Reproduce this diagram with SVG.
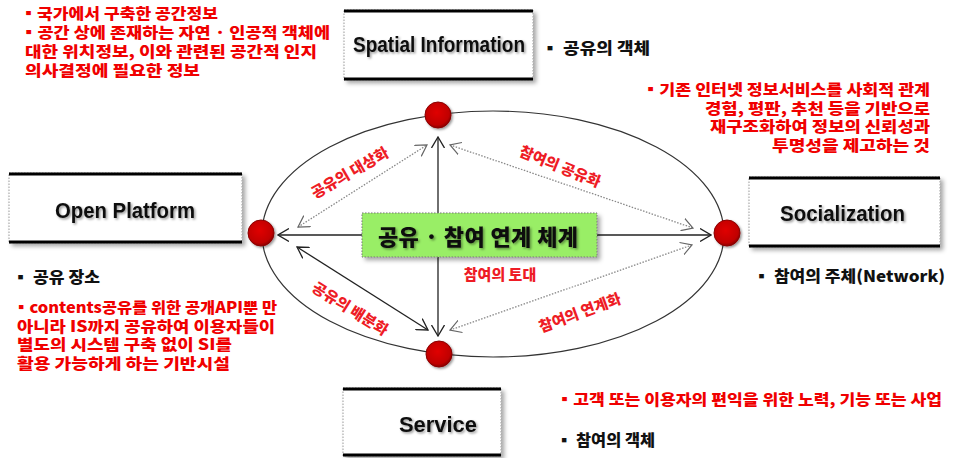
<svg xmlns="http://www.w3.org/2000/svg" width="958" height="458" viewBox="0 0 958 458">
<style>
.kr{font-family:"Noto Sans CJK KR",sans-serif;font-weight:900;}
.red{fill:#f00000;font-size:15px;}
.blk{fill:#111;font-size:16px;}
.lbl{fill:#ee1c25;font-size:15px;stroke:#fff;stroke-width:2.5px;paint-order:stroke;stroke-linejoin:round;}
.en{font-family:"Liberation Sans Narrow","Liberation Sans",sans-serif;font-weight:bold;font-size:22px;fill:#111;filter:url(#tsh);}
.boxbg{fill:#fff;stroke:#9a9a9a;stroke-width:1;stroke-dasharray:1.5 1.5;filter:url(#bsh);}
.bar{stroke:#000;stroke-width:3;}
.sol{stroke:#222;stroke-width:1.3;fill:none;}
.dot{stroke:#888;stroke-width:1.3;stroke-dasharray:1.5 1.5;fill:none;}
.node{fill:url(#rg);stroke:#8a0000;stroke-width:1;filter:url(#csh);}
</style>
<defs>
<radialGradient id="rg" cx="45%" cy="40%" r="60%">
<stop offset="0" stop-color="#e00000"/>
<stop offset="0.8" stop-color="#c00000"/>
<stop offset="1" stop-color="#8a0000"/>
</radialGradient>
<filter id="bsh" x="-10%" y="-10%" width="130%" height="140%">
<feDropShadow dx="3" dy="3" stdDeviation="2" flood-color="#000" flood-opacity="0.35"/>
</filter>
<filter id="tsh" x="-10%" y="-20%" width="130%" height="160%">
<feDropShadow dx="1.5" dy="1.5" stdDeviation="1" flood-color="#000" flood-opacity="0.4"/>
</filter>
<filter id="csh" x="-30%" y="-30%" width="170%" height="170%">
<feDropShadow dx="1.5" dy="1.5" stdDeviation="1.2" flood-color="#000" flood-opacity="0.4"/>
</filter>
<marker id="ah" viewBox="0 0 12 14" refX="11" refY="7" markerWidth="12" markerHeight="14" markerUnits="userSpaceOnUse" orient="auto-start-reverse">
<path d="M0,0.5 L11,7 L0,13.5" fill="none" stroke="#222" stroke-width="1.3"/>
</marker>
<marker id="ahg" viewBox="0 0 12 14" refX="11" refY="7" markerWidth="12" markerHeight="14" markerUnits="userSpaceOnUse" orient="auto-start-reverse">
<path d="M0,0.5 L11,7 L0,13.5" fill="none" stroke="#666" stroke-width="1.2"/>
</marker>
</defs>
<rect width="958" height="458" fill="#fff"/>

<ellipse cx="493" cy="234" rx="231" ry="123" fill="none" stroke="#333" stroke-width="1.2"/>

<g id="connectors">
<line class="sol" x1="438" y1="213" x2="438" y2="137" marker-end="url(#ah)"/>
<line class="sol" x1="438" y1="257" x2="438" y2="336" marker-end="url(#ah)"/>
<line class="sol" x1="362" y1="235" x2="278" y2="235" marker-end="url(#ah)"/>
<line class="sol" x1="597" y1="235" x2="711" y2="235" marker-end="url(#ah)"/>
<line class="sol" x1="297" y1="247" x2="428" y2="330" marker-start="url(#ah)" marker-end="url(#ah)"/>
<line class="dot" x1="298" y1="227" x2="427" y2="145" marker-start="url(#ahg)" marker-end="url(#ahg)"/>
<line class="dot" x1="450" y1="145" x2="693" y2="228" marker-start="url(#ahg)" marker-end="url(#ahg)"/>
<line class="dot" x1="692" y1="245" x2="450" y2="330" marker-start="url(#ahg)" marker-end="url(#ahg)"/>
<text class="kr lbl" text-anchor="middle" x="350" y="178" transform="rotate(-30 350 173)">공유의 대상화</text>
<text class="kr lbl" text-anchor="middle" x="560" y="172" transform="rotate(22 560 167)">참여의 공유화</text>
<text class="kr lbl" text-anchor="middle" x="500" y="280">참여의 토대</text>
<text class="kr lbl" text-anchor="middle" x="580" y="318" transform="rotate(-20 580 313)">참여의 연계화</text>
<text class="kr lbl" text-anchor="middle" x="350" y="314" transform="rotate(32 350 309)">공유의 배분화</text>
</g>

<g id="n-top"><circle class="node" cx="438" cy="115" r="13"/></g>
<g id="n-left"><circle class="node" cx="261" cy="233" r="13"/></g>
<g id="n-right"><circle class="node" cx="727" cy="233" r="13"/></g>
<g id="n-bottom"><circle class="node" cx="439" cy="354" r="13"/></g>

<g id="center">
<rect x="362" y="213" width="235" height="44" fill="#99ee66" stroke="#777" stroke-width="1" stroke-dasharray="1.5 1.5" filter="url(#bsh)"/>
<text class="kr" x="378" y="245" font-size="22" fill="#111" textLength="200" filter="url(#tsh)">공유 · 참여 연계 체계</text>
</g>

<g id="spatial">
<rect class="boxbg" x="344" y="10" width="189" height="70"/>
<line class="bar" x1="344" y1="11" x2="533" y2="11"/>
<line class="bar" x1="344" y1="79" x2="533" y2="79"/>
<text class="en" x="353" y="52" textLength="172" lengthAdjust="spacingAndGlyphs">Spatial Information</text>
</g>

<g id="open-platform">
<rect class="boxbg" x="9" y="173" width="233" height="70"/>
<line class="bar" x1="9" y1="174" x2="242" y2="174"/>
<line class="bar" x1="9" y1="242" x2="242" y2="242"/>
<text class="en" x="55" y="218" textLength="140" lengthAdjust="spacingAndGlyphs">Open Platform</text>
</g>

<g id="socialization">
<rect class="boxbg" x="749" y="177" width="191" height="70"/>
<line class="bar" x1="749" y1="178" x2="940" y2="178"/>
<line class="bar" x1="749" y1="246" x2="940" y2="246"/>
<text class="en" x="780" y="221" textLength="125" lengthAdjust="spacingAndGlyphs">Socialization</text>
</g>

<g id="service">
<rect class="boxbg" x="343" y="388" width="158" height="68"/>
<line class="bar" x1="343" y1="389" x2="501" y2="389"/>
<line class="bar" x1="343" y1="455" x2="501" y2="455"/>
<text class="en" x="399" y="432" textLength="78" lengthAdjust="spacingAndGlyphs">Service</text>
</g>

<g id="notes">
<text class="kr red" x="20" y="19" textLength="198" lengthAdjust="spacingAndGlyphs">▪국가에서 구축한 공간정보</text>
<text class="kr red" x="20" y="38" textLength="310" lengthAdjust="spacingAndGlyphs">▪공간 상에 존재하는 자연 · 인공적 객체에</text>
<text class="kr red" x="25" y="57" textLength="292" lengthAdjust="spacingAndGlyphs">대한 위치정보, 이와 관련된 공간적 인지</text>
<text class="kr red" x="25" y="76" textLength="175" lengthAdjust="spacingAndGlyphs">의사결정에 필요한 정보</text>

<text class="kr blk" x="541" y="54" textLength="109" lengthAdjust="spacingAndGlyphs">▪ 공유의 객체</text>

<text class="kr red" text-anchor="end" x="930" y="95" textLength="288" lengthAdjust="spacingAndGlyphs">▪기존 인터넷 정보서비스를 사회적 관계</text>
<text class="kr red" text-anchor="end" x="930" y="114" textLength="225" lengthAdjust="spacingAndGlyphs">경험, 평판, 추천 등을 기반으로</text>
<text class="kr red" text-anchor="end" x="930" y="132" textLength="220" lengthAdjust="spacingAndGlyphs">재구조화하여 정보의 신뢰성과</text>
<text class="kr red" text-anchor="end" x="930" y="151" textLength="158" lengthAdjust="spacingAndGlyphs">투명성을 제고하는 것</text>

<text class="kr blk" x="753" y="282" textLength="192" lengthAdjust="spacingAndGlyphs">▪ 참여의 주체(Network)</text>

<text class="kr blk" x="12" y="283" textLength="88" lengthAdjust="spacingAndGlyphs">▪ 공유 장소</text>
<text class="kr red" x="13" y="313" textLength="264" lengthAdjust="spacingAndGlyphs">▪contents공유를 위한 공개API뿐 만</text>
<text class="kr red" x="17" y="332" textLength="258" lengthAdjust="spacingAndGlyphs">아니라 IS까지 공유하여 이용자들이</text>
<text class="kr red" x="17" y="350" textLength="215" lengthAdjust="spacingAndGlyphs">별도의 시스템 구축 없이 SI를</text>
<text class="kr red" x="17" y="369" textLength="213" lengthAdjust="spacingAndGlyphs">활용 가능하게 하는 기반시설</text>

<text class="kr red" x="556" y="405" textLength="386" lengthAdjust="spacingAndGlyphs">▪고객 또는 이용자의 편익을 위한 노력, 기능 또는 사업</text>
<text class="kr blk" x="556" y="446" textLength="99" lengthAdjust="spacingAndGlyphs">▪ 참여의 객체</text>
</g>
</svg>
